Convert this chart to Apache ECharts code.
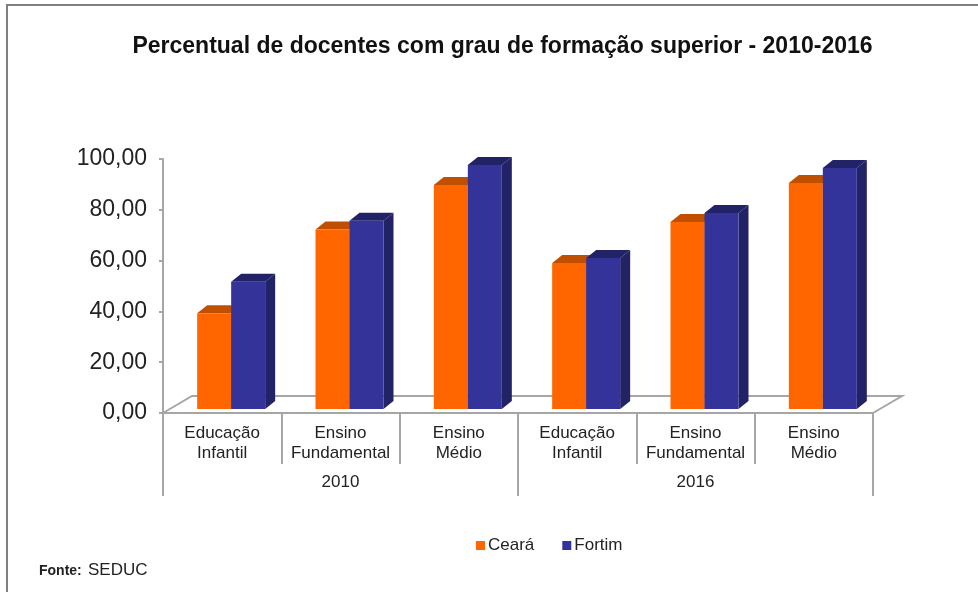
<!DOCTYPE html>
<html>
<head>
<meta charset="utf-8">
<style>html,body{margin:0;padding:0;background:#fff}</style>
<script src="https://cdn.jsdelivr.net/npm/echarts@6/dist/echarts.min.js"></script>
</head>
<body>
<div id="main" style="width:978px;height:592px"></div>
<script>
var categories = ['Educação\nInfantil', 'Ensino\nFundamental', 'Ensino\nMédio', 'Educação\nInfantil', 'Ensino\nFundamental', 'Ensino\nMédio'];
var years = ['2010', '2016'];
var ceara = [37.7, 70.7, 88.2, 57.5, 73.6, 89.0];
var fortim = [50.1, 74.1, 96.1, 59.4, 77.2, 94.9];

var axisGray = '#a6a6a6';
var font = '"Liberation Sans", Arial, sans-serif';

// bar with a fake 3d top and side, offset is where the pair sits in the band
function bar3d(front, top, side, offset) {
    return function (params, api) {
        var i = api.value(0);
        var w = 34, dx = 10, dy = 8, lift = 4;
        var band = api.size([1, 0])[0];
        var x = api.coord([i, 0])[0] + offset * w + band * 0.076;
        var y0 = api.coord([i, 0])[1] - lift;
        var y1 = api.coord([i, api.value(1)])[1] - lift;
        return {
            type: 'group',
            children: [
                { type: 'polygon', shape: { points: [[x, y1], [x + dx, y1 - dy], [x + w + dx, y1 - dy], [x + w, y1]] }, style: { fill: top } },
                { type: 'polygon', shape: { points: [[x + w, y1], [x + w + dx, y1 - dy], [x + w + dx, y0 - dy], [x + w, y0]] }, style: { fill: side } },
                { type: 'rect', shape: { x: x, y: y1, width: w, height: y0 - y1 }, style: { fill: front } }
            ]
        };
    };
}

function floor(params) {
    var c = params.coordSys, dx = 29, dy = 17;
    var yb = c.y + c.height;
    return {
        type: 'polyline',
        shape: { points: [[c.x, yb], [c.x + dx, yb - dy], [c.x + c.width + dx, yb - dy], [c.x + c.width, yb]] },
        style: { fill: 'none', stroke: axisGray, lineWidth: 2 }
    };
}

var option = {
    animation: false,
    backgroundColor: '#fff',
    title: {
        text: 'Percentual de docentes com grau de formação superior - 2010-2016',
        left: 497.5,
        top: 30,
        textAlign: 'center',
        textStyle: { fontFamily: font, fontSize: 23, fontWeight: 'bold', color: '#111' }
    },
    legend: {
        data: ['Ceará', 'Fortim'],
        left: 476,
        top: 537,
        padding: 0,
        icon: 'rect',
        itemWidth: 9,
        itemHeight: 9,
        itemGap: 28,
        textStyle: { fontFamily: font, fontSize: 17, color: '#222', padding: [0, 0, 0, -2] }
    },
    grid: { left: 163, right: 105, top: 159, bottom: 179 },
    xAxis: [
        {
            type: 'category',
            data: categories,
            position: 'bottom',
            axisLine: { show: true, onZero: false, lineStyle: { color: axisGray, width: 2 } },
            axisTick: { show: true, interval: 0, length: 51, lineStyle: { color: axisGray, width: 2 } },
            axisLabel: { interval: 0, margin: 10, fontFamily: font, fontSize: 17, lineHeight: 20, color: '#222' }
        },
        {
            type: 'category',
            data: years,
            position: 'bottom',
            axisLine: { show: false, onZero: false },
            axisTick: { show: true, interval: 0, length: 83, lineStyle: { color: axisGray, width: 2 } },
            axisLabel: { interval: 0, margin: 61, fontFamily: font, fontSize: 17, color: '#222' }
        }
    ],
    yAxis: {
        type: 'value',
        min: 0,
        max: 100,
        interval: 20,
        splitLine: { show: false },
        axisLine: { show: true, lineStyle: { color: axisGray, width: 2 } },
        axisTick: { show: true, length: 4, lineStyle: { color: axisGray, width: 2 } },
        axisLabel: {
            margin: 16,
            padding: [3, 0, 0, 0],
            fontFamily: font,
            fontSize: 23,
            color: '#222',
            formatter: function (v) { return v.toFixed(2).replace('.', ','); }
        }
    },
    series: [
        { name: 'piso', type: 'custom', silent: true, clip: false, data: [[0, 0]], renderItem: floor },
        {
            name: 'Ceará',
            type: 'custom',
            clip: false,
            itemStyle: { color: '#ff6600' },
            data: ceara.map(function (v, i) { return [i, v]; }),
            encode: { x: 0, y: 1 },
            renderItem: bar3d('#ff6600', '#c05000', '#c05000', -1)
        },
        {
            name: 'Fortim',
            type: 'custom',
            clip: false,
            itemStyle: { color: '#333399' },
            data: fortim.map(function (v, i) { return [i, v]; }),
            encode: { x: 0, y: 1 },
            renderItem: bar3d('#333399', '#222266', '#222266', 0)
        }
    ],
    graphic: [
        {
            type: 'polyline',
            silent: true,
            shape: { points: [[7, 592], [7, 5], [978, 5]] },
            style: { fill: 'none', stroke: '#7f7f7f', lineWidth: 2 }
        },
        {
            type: 'text',
            left: 39,
            top: 564,
            style: { text: 'Fonte:', fontFamily: font, fontSize: 14, fontWeight: 'bold', fill: '#222' }
        },
        {
            type: 'text',
            left: 88,
            top: 562,
            style: { text: 'SEDUC', fontFamily: font, fontSize: 17, fill: '#222' }
        }
    ]
};

var chart = echarts.init(document.getElementById('main'));
chart.setOption(option);
</script>
</body>
</html>
